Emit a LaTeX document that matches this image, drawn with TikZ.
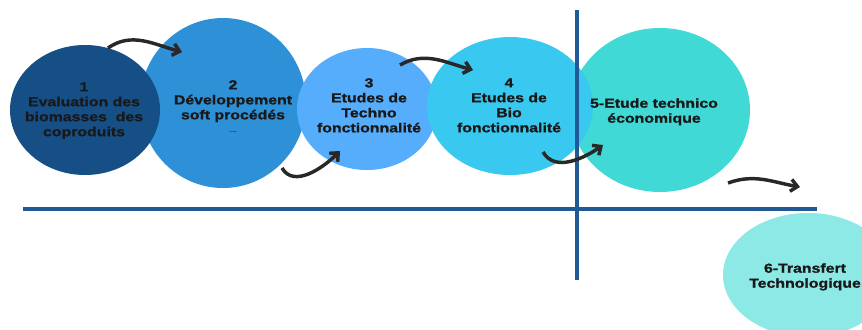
\documentclass[tikz,border=0pt]{standalone}
\usepackage{fontspec}
\usepackage{tikz}
\usetikzlibrary{shapes.geometric,arrows.meta}
\newfontfamily\lblfont{Liberation Sans}[FakeStretch=1.22,FakeBold=1.2]
\definecolor{deepblue}{RGB}{22,79,134}
\definecolor{midblue}{RGB}{46,144,214}
\definecolor{skyblue}{RGB}{85,173,251}
\definecolor{cyanblue}{RGB}{56,200,240}
\definecolor{turquoise}{RGB}{64,217,214}
\definecolor{paleaqua}{RGB}{140,233,230}
\definecolor{axisblue}{RGB}{31,90,150}
\definecolor{inkgray}{RGB}{40,40,40}
\tikzset{%
    bulle/.style={ellipse, draw=none, inner sep=0pt},
    etiquette/.style={%
        font=\lblfont\bfseries\fontsize{9.75}{11.25}\selectfont,
        align=center, text=black!90, inner sep=0pt, anchor=north},
    fleche/.style={-{Straight Barb[length=5pt,width=9pt]}, line width=2.6pt, color=inkgray},
    axe/.style={color=axisblue}
}

\begin{document}
\begin{tikzpicture}[x=0.75pt,y=0.75pt]
    \useasboundingbox (0,0) rectangle (862,-329);
    \clip (0,0) rectangle (862,-329);
%-----------------------------------------------
    \node[bulle, fill=midblue, minimum width=124.5pt, minimum height=127.5pt] (e2) at (223,-103) {};
    \node[bulle, fill=deepblue, minimum width=112.5pt, minimum height=97.5pt] (e1) at (85,-110) {};
    \node[bulle, fill=skyblue, minimum width=105pt, minimum height=91.5pt] (e3) at (367,-109) {};
    \node[bulle, fill=turquoise, minimum width=135pt, minimum height=123pt] (e5) at (660,-110) {};
    \node[bulle, fill=cyanblue, minimum width=124.5pt, minimum height=103.5pt] (e4) at (510,-106) {};
    \node[bulle, fill=paleaqua, minimum width=127.5pt, minimum height=93pt] (e6) at (808,-275) {};
%-----------------------------------------------
    \coordinate (hg) at (23,-209);
    \coordinate (hd) at (817,-209);
    \coordinate (vh) at (577,-10);
    \coordinate (vb) at (577,-280);
    \draw[axe, line width=2.3pt] (hg)--(hd);
    \draw[axe, line width=3.4pt] (vh)--(vb);
%-----------------------------------------------
    \node[etiquette] (t1) at (84,-82) {1\\Evaluation des\\biomasses\ \ des\\coproduits};
    \node[etiquette] (t2) at (233,-80) {2\\D\'eveloppement\\soft proc\'ed\'es\\[-2pt]{\fontsize{4}{4}\selectfont\mdseries ....}};
    \node[etiquette] (t3) at (369,-78) {3\\Etudes de\\Techno\\fonctionnalit\'e};
    \node[etiquette] (t4) at (509,-78) {4\\Etudes de\\Bio\\fonctionnalit\'e};
    \node[etiquette] (t5) at (654,-98) {5-Etude technico\\\'economique};
    \node[etiquette] (t6) at (805,-263) {6-Transfert\\Technologique};
%-----------------------------------------------
    \coordinate (d1) at (108,-48);  \coordinate (f1) at (182,-52);
    \coordinate (d2) at (282,-168); \coordinate (f2) at (340,-151);
    \coordinate (d3) at (400,-65);  \coordinate (f3) at (473,-70);
    \coordinate (d4) at (543,-152); \coordinate (f4) at (603,-145);
    \coordinate (d5) at (728,-183); \coordinate (f5) at (800,-187);
    \draw[fleche] (d1) to[out=35,in=165] (f1);
    \draw[fleche] (d2) to[out=-60,in=-135] (f2);
    \draw[fleche] (d3) to[out=30,in=165] (f3);
    \draw[fleche] (d4) to[out=-60,in=-145] (f4);
    \draw[fleche] (d5) to[out=20,in=170] (f5);
\end{tikzpicture}
\end{document}
